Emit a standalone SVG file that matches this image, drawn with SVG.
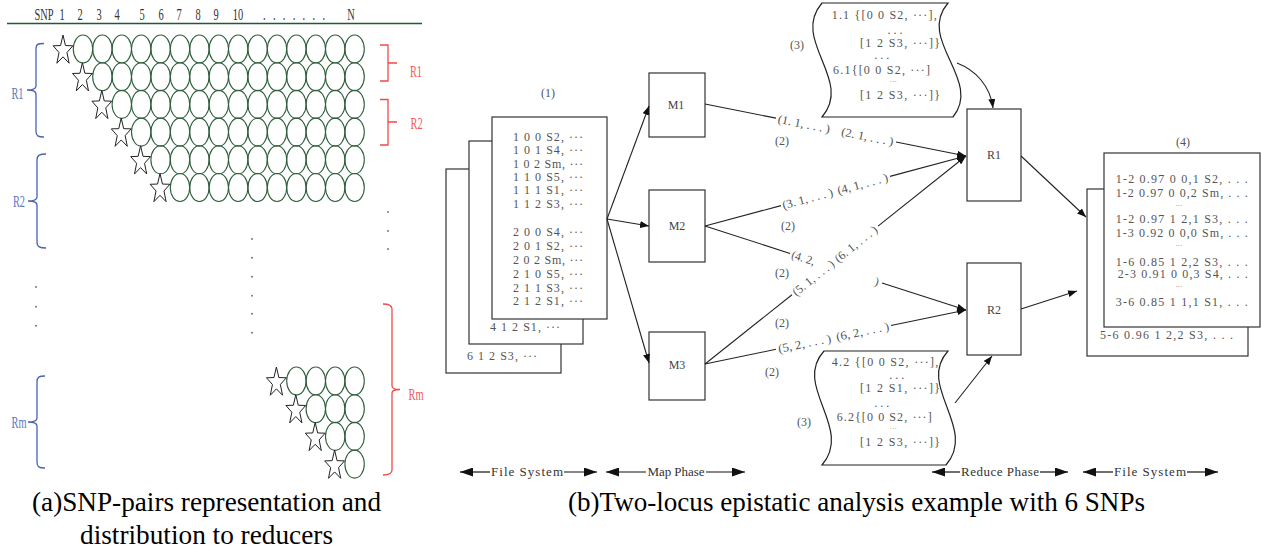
<svg xmlns="http://www.w3.org/2000/svg" width="1262" height="550" viewBox="0 0 1262 550">
<style>
.cir{fill:none;stroke:#2f5f3c;stroke-width:1.1}
.star{fill:#fff;stroke:#222;stroke-width:1}
.hdr{font-family:"Liberation Serif",serif;font-size:16px;fill:#333}
.bl{fill:none;stroke:#4a64ad;stroke-width:1.3}
.rd{fill:none;stroke:#f04a4a;stroke-width:1.3}
.blt{font-family:"Liberation Serif",serif;font-size:16px;fill:#5c78c4}
.rdt{font-family:"Liberation Serif",serif;font-size:16px;fill:#f05a5a}
.dot{fill:#6a8070}
.box{fill:#fff;stroke:#333;stroke-width:1.2}
.wave{fill:#fff;stroke:#222;stroke-width:1.2}
.mono{font-family:"Liberation Serif",serif;font-size:12px;fill:#555}
.omono{font-family:"Liberation Serif",serif;font-size:12px;fill:#555}
.md{font-family:"Liberation Serif",serif;font-size:7px;fill:#555;text-anchor:middle}
.nm{font-family:"Liberation Serif",serif;font-size:12px;fill:#444;text-anchor:middle}
.lbl{font-family:"Liberation Serif",serif;font-size:12px;fill:#555;text-anchor:middle}
.ln{fill:none;stroke:#222;stroke-width:1.1}
.ph{fill:none;stroke:#111;stroke-width:1.2}
.pht{font-family:"Liberation Serif",serif;font-size:13px;fill:#333;text-anchor:middle}
.cap{font-family:"Liberation Serif",serif;font-size:27px;fill:#000}
</style>
<defs>
<marker id="ah" viewBox="0 0 9 7" refX="9" refY="3.5" markerWidth="9" markerHeight="7" markerUnits="userSpaceOnUse" orient="auto" preserveAspectRatio="none"><path d="M0,0 L9,3.5 L0,7 Z" fill="#111"/></marker>
<marker id="pm" viewBox="0 0 13 9" refX="13" refY="4.5" markerWidth="13" markerHeight="9" markerUnits="userSpaceOnUse" orient="auto-start-reverse" preserveAspectRatio="none"><path d="M0,0 L13,4.5 L0,9 Z" fill="#111"/></marker>
<polygon id="star" points="0,-15.6 2.45,-5.05 9.89,-4.82 3.96,1.93 6.11,12.62 0,6.24 -6.11,12.62 -3.96,1.93 -9.89,-4.82 -2.45,-5.05"/>
<g id="k14"><ellipse class="cir" cx="354.6" cy="0" rx="9.7" ry="14"/></g>
<g id="k13"><ellipse class="cir" cx="335.2" cy="0" rx="9.7" ry="14"/><use href="#k14"/></g>
<g id="k12"><ellipse class="cir" cx="315.8" cy="0" rx="9.7" ry="14"/><use href="#k13"/></g>
<g id="k11"><ellipse class="cir" cx="296.4" cy="0" rx="9.7" ry="14"/><use href="#k12"/></g>
<g id="k10"><ellipse class="cir" cx="277" cy="0" rx="9.7" ry="14"/><use href="#k11"/></g>
<g id="k9"><ellipse class="cir" cx="257.6" cy="0" rx="9.7" ry="14"/><use href="#k10"/></g>
<g id="k8"><ellipse class="cir" cx="238.2" cy="0" rx="9.7" ry="14"/><use href="#k9"/></g>
<g id="k7"><ellipse class="cir" cx="218.8" cy="0" rx="9.7" ry="14"/><use href="#k8"/></g>
<g id="k6"><ellipse class="cir" cx="199.4" cy="0" rx="9.7" ry="14"/><use href="#k7"/></g>
<g id="k5"><ellipse class="cir" cx="180" cy="0" rx="9.7" ry="14"/><use href="#k6"/></g>
<g id="k4"><ellipse class="cir" cx="160.6" cy="0" rx="9.7" ry="14"/><use href="#k5"/></g>
<g id="k3"><ellipse class="cir" cx="141.2" cy="0" rx="9.7" ry="14"/><use href="#k4"/></g>
<g id="k2"><ellipse class="cir" cx="121.8" cy="0" rx="9.7" ry="14"/><use href="#k3"/></g>
<g id="k1"><ellipse class="cir" cx="102.4" cy="0" rx="9.7" ry="14"/><use href="#k2"/></g>
<g id="k0"><ellipse class="cir" cx="83" cy="0" rx="9.7" ry="14"/><use href="#k1"/></g>
</defs>
<rect width="1262" height="550" fill="#fff"/>

<!-- Left panel (a) -->
<g id="panel-a">
<line x1="7" y1="23.5" x2="422" y2="23.5" stroke="#1f5a30" stroke-width="1.5"/>
<g transform="scale(0.65,1)" class="hdr" text-anchor="middle">
<text x="67.7" y="20">SNP</text>
<text x="95.4" y="20">1</text>
<text x="123.1" y="20">2</text>
<text x="152.3" y="20">3</text>
<text x="180" y="20">4</text>
<text x="218.5" y="20">5</text>
<text x="247.7" y="20">6</text>
<text x="275.4" y="20">7</text>
<text x="304.6" y="20">8</text>
<text x="332.3" y="20">9</text>
<text x="366.2" y="20">10</text>
<text x="404.6" y="20" text-anchor="start" textLength="95.4" lengthAdjust="spacing">.......</text>
<text x="540" y="20">N</text>
</g>
<use href="#k0" y="49"/>
<use href="#k1" y="76.7"/>
<use href="#k2" y="104.4"/>
<use href="#k3" y="132.1"/>
<use href="#k4" y="159.8"/>
<use href="#k5" y="187.5"/>
<use href="#k11" y="381"/>
<use href="#k12" y="408.7"/>
<use href="#k13" y="436.4"/>
<use href="#k14" y="464.1"/>
<use href="#star" class="star" x="63" y="50.6"/>
<use href="#star" class="star" x="82.4" y="78.3"/>
<use href="#star" class="star" x="101.8" y="106"/>
<use href="#star" class="star" x="121.2" y="133.7"/>
<use href="#star" class="star" x="140.6" y="161.4"/>
<use href="#star" class="star" x="160" y="189.1"/>
<use href="#star" class="star" x="276.4" y="382.6"/>
<use href="#star" class="star" x="295.8" y="410.3"/>
<use href="#star" class="star" x="315.2" y="438"/>
<use href="#star" class="star" x="334.6" y="465.7"/>
<path class="bl" d="M44,43.5 C38,43.5 36,44 36,49 L36,86 C36,89 33,90 27,90 C33,90 36,91 36,94 L36,131 C36,136 38,137 44,137"/>
<path class="bl" d="M46,154 C40,154 37,155 37,160 L37,197 C37,200 34,201 28,201 C34,201 37,202 37,205 L37,242 C37,247 40,248 46,248"/>
<path class="bl" d="M45,376 C39,376 37,377 37,382 L37,418 C37,421 34,422 28,422 C34,422 37,423 37,426 L37,462 C37,467 39,468 45,468"/>
<path class="rd" d="M380,45 L388,45 L388,81 L380,81 M388,63 L397,63"/>
<path class="rd" d="M380,99.5 L388,99.5 L388,145 L380,145 M388,122 L397,122"/>
<path class="rd" stroke-width="1.6" d="M383,304 C389,304 392,305 392,309 L392,386 C392,388 395,389.5 400,389.5 C395,389.5 392,391 392,393 L392,470 C392,474 389,475 383,475"/>
<g transform="scale(0.65,1)" text-anchor="middle">
<text class="blt" x="26.9" y="99">R1</text>
<text class="blt" x="29.2" y="207">R2</text>
<text class="blt" x="29.2" y="428">Rm</text>
<text class="rdt" x="640" y="77">R1</text>
<text class="rdt" x="640.8" y="129">R2</text>
<text class="rdt" x="640" y="400">Rm</text>
</g>
<circle class="dot" cx="36" cy="287" r="1"/>
<circle class="dot" cx="36" cy="306.7" r="1"/>
<circle class="dot" cx="36" cy="325.7" r="1"/>
<circle class="dot" cx="252" cy="239" r="1"/>
<circle class="dot" cx="252" cy="257.7" r="1"/>
<circle class="dot" cx="252" cy="276.7" r="1"/>
<circle class="dot" cx="252" cy="295.7" r="1"/>
<circle class="dot" cx="252" cy="313.7" r="1"/>
<circle class="dot" cx="252" cy="332.7" r="1"/>
<circle class="dot" cx="388" cy="212" r="1"/>
<circle class="dot" cx="388" cy="231" r="1"/>
<circle class="dot" cx="388" cy="249" r="1"/>
</g>

<!-- (1) input files -->
<g id="input-files">
<text class="lbl" x="548" y="97">(1)</text>
<rect class="box" x="446" y="169" width="115" height="204"/>
<text class="mono" x="467" y="360" textLength="70" lengthAdjust="spacing">6 1 2 S3, ···</text>
<rect class="box" x="469" y="141" width="114" height="203"/>
<text class="mono" x="490" y="330.5" textLength="70" lengthAdjust="spacing">4 1 2 S1, ···</text>
<rect class="box" x="492" y="117" width="115" height="202"/>
<g class="mono">
<text x="513" y="140.5" textLength="70" lengthAdjust="spacing">1 0 0 S2, ···</text>
<text x="513" y="154" textLength="70" lengthAdjust="spacing">1 0 1 S4, ···</text>
<text x="513" y="167.5" textLength="70" lengthAdjust="spacing">1 0 2 Sm, ···</text>
<text x="513" y="180.5" textLength="70" lengthAdjust="spacing">1 1 0 S5, ···</text>
<text x="513" y="194" textLength="70" lengthAdjust="spacing">1 1 1 S1, ···</text>
<text x="513" y="207.5" textLength="70" lengthAdjust="spacing">1 1 2 S3, ···</text>
<text x="513" y="235.5" textLength="70" lengthAdjust="spacing">2 0 0 S4, ···</text>
<text x="513" y="249.5" textLength="70" lengthAdjust="spacing">2 0 1 S2, ···</text>
<text x="513" y="264" textLength="70" lengthAdjust="spacing">2 0 2 Sm, ···</text>
<text x="513" y="278" textLength="70" lengthAdjust="spacing">2 1 0 S5, ···</text>
<text x="513" y="291.5" textLength="70" lengthAdjust="spacing">2 1 1 S3, ···</text>
<text x="513" y="304.5" textLength="70" lengthAdjust="spacing">2 1 2 S1, ···</text>
</g>
</g>

<!-- mappers -->
<g id="M1"><rect class="box" x="649" y="73" width="56" height="64"/><text class="nm" x="676" y="109">M1</text></g>
<g id="M2"><rect class="box" x="649" y="190" width="56" height="72"/><text class="nm" x="677" y="230">M2</text></g>
<g id="M3"><rect class="box" x="649" y="332" width="56" height="68"/><text class="nm" x="677" y="369">M3</text></g>

<!-- reducers -->
<g id="R1"><rect class="box" x="967" y="109" width="54" height="92"/><text class="nm" x="994" y="159">R1</text></g>
<g id="R2"><rect class="box" x="967" y="263" width="54" height="92"/><text class="nm" x="994" y="314">R2</text></g>

<!-- (3) top shuffle doc -->
<g id="shuffle-top">
<path class="wave" d="M822,3 L948,3 C916,40 983,80 953,117 L822,117 C854,80 790,40 822,3 Z"/>
<text class="lbl" x="797" y="49">(3)</text>
<g class="mono">
<text x="831.7" y="19" textLength="105" lengthAdjust="spacing">1.1 {[0 0 S2, ···],</text>
<text x="895" y="34" text-anchor="middle">. . .</text>
<text x="860" y="47.3" textLength="80" lengthAdjust="spacing">[1 2 S3, ···]}</text>
<text x="881.7" y="59" text-anchor="middle">. . .</text>
<text x="833" y="74" textLength="97" lengthAdjust="spacing">6.1{[0 0 S2, ···]</text>
<text class="md" x="893.3" y="84">···</text>
<text x="860" y="99" textLength="80" lengthAdjust="spacing">[1 2 S3, ···]}</text>
</g>
</g>

<!-- (3) bottom shuffle doc -->
<g id="shuffle-bottom">
<path class="wave" d="M824,351 L948,351 C916,386 978,428 946,465 L822,465 C854,428 792,386 824,351 Z"/>
<text class="lbl" x="804" y="426">(3)</text>
<g class="mono">
<text x="831.7" y="365.7" textLength="106.6" lengthAdjust="spacing">4.2 {[0 0 S2, ···],</text>
<text x="896.7" y="379" text-anchor="middle">. . .</text>
<text x="860" y="392.3" textLength="80" lengthAdjust="spacing">[1 2 S1, ···]}</text>
<text x="881.7" y="407" text-anchor="middle">. . .</text>
<text x="836.7" y="420.7" textLength="95" lengthAdjust="spacing">6.2{[0 0 S2, ···]</text>
<text class="md" x="893.3" y="430.5">···</text>
<text x="860" y="445.7" textLength="80" lengthAdjust="spacing">[1 2 S3, ···]}</text>
</g>
</g>

<!-- (4) output files -->
<g id="output-files">
<text class="lbl" x="1183" y="146">(4)</text>
<rect class="box" x="1087" y="189" width="161" height="167"/>
<text class="omono" x="1100" y="339" textLength="133" lengthAdjust="spacing">5-6 0.96 1 2,2 S3, . . .</text>
<rect class="box" x="1104" y="153" width="156" height="174"/>
<g class="omono">
<text x="1115.7" y="183.3" textLength="132" lengthAdjust="spacing">1-2 0.97 0 0,1 S2, . . .</text>
<text x="1115.7" y="196.7" textLength="132" lengthAdjust="spacing">1-2 0.97 0 0,2 Sm, . . .</text>
<text class="md" x="1179" y="207.5">···</text>
<text x="1115.7" y="223.3" textLength="132" lengthAdjust="spacing">1-2 0.97 1 2,1 S3, . . .</text>
<text x="1115.7" y="236.7" textLength="132" lengthAdjust="spacing">1-3 0.92 0 0,0 Sm, . . .</text>
<text class="md" x="1179" y="247.5">···</text>
<text x="1115.7" y="265.7" textLength="132" lengthAdjust="spacing">1-6 0.85 1 2,2 S3, . . .</text>
<text x="1117.7" y="278.3" textLength="130" lengthAdjust="spacing">2-3 0.91 0 0,3 S4, . . .</text>
<text class="md" x="1179" y="289">···</text>
<text x="1115.7" y="305.7" textLength="132" lengthAdjust="spacing">3-6 0.85 1 1,1 S1, . . .</text>
</g>
</g>

<!-- connectors -->
<g id="connectors">
<line class="ln" x1="607" y1="219" x2="649" y2="106" marker-end="url(#ah)"/>
<line class="ln" x1="607" y1="219" x2="649" y2="226" marker-end="url(#ah)"/>
<line class="ln" x1="607" y1="219" x2="649" y2="363" marker-end="url(#ah)"/>
<line class="ln" x1="705" y1="104" x2="776" y2="118.1"/>
<line class="ln" x1="896" y1="142" x2="966" y2="156" marker-end="url(#ah)"/>
<line class="ln" x1="705" y1="226" x2="781" y2="205.6"/>
<line class="ln" x1="890" y1="176.4" x2="966" y2="156" marker-end="url(#ah)"/>
<line class="ln" x1="705" y1="226" x2="790" y2="253.4"/>
<line class="ln" x1="882" y1="283" x2="966" y2="310" marker-end="url(#ah)"/>
<line class="ln" x1="705" y1="364" x2="792" y2="294.7"/>
<line class="ln" x1="878" y1="226.1" x2="966" y2="156" marker-end="url(#ah)"/>
<line class="ln" x1="705" y1="364" x2="776" y2="349.3"/>
<line class="ln" x1="891" y1="325.5" x2="966" y2="310" marker-end="url(#ah)"/>
<path class="ln" d="M957,63 C975,70 990,85 993,108" marker-end="url(#ah)"/>
<line class="ln" x1="955" y1="403" x2="992" y2="356" marker-end="url(#ah)"/>
<line class="ln" x1="1021" y1="156" x2="1086" y2="217" marker-end="url(#ah)"/>
<line class="ln" x1="1021" y1="309" x2="1077" y2="291" marker-end="url(#ah)"/>
<g class="lbl">
<text x="804" y="123.7" dy="0.35em" transform="rotate(11.27 804 123.7)" textLength="53" lengthAdjust="spacingAndGlyphs">(1. 1, . . . )</text>
<text x="867.5" y="136.4" dy="0.35em" transform="rotate(11.27 867.5 136.4)" textLength="53" lengthAdjust="spacingAndGlyphs">(2. 1, . . . )</text>
<text x="807.5" y="198.5" dy="0.35em" transform="rotate(-15.01 807.5 198.5)" textLength="52" lengthAdjust="spacingAndGlyphs">(3. 1, . . . )</text>
<text x="862.5" y="183.8" dy="0.35em" transform="rotate(-15.01 862.5 183.8)" textLength="52" lengthAdjust="spacingAndGlyphs">(4, 1, . . . )</text>
<text x="803.4" y="257.7" dy="0.35em" transform="rotate(17.84 803.4 257.7)" textLength="24" lengthAdjust="spacingAndGlyphs">(4. 2,</text>
<text x="877" y="281.3" dy="0.35em" transform="rotate(17.84 877 281.3)">)</text>
<text x="813.3" y="277.7" dy="0.35em" transform="rotate(-38.55 813.3 277.7)" textLength="50" lengthAdjust="spacingAndGlyphs">(5. 1, . . . )</text>
<text x="855.8" y="243.8" dy="0.35em" transform="rotate(-38.55 855.8 243.8)" textLength="51" lengthAdjust="spacingAndGlyphs">(6. 1, . . . )</text>
<text x="804.5" y="343.4" dy="0.35em" transform="rotate(-11.69 804.5 343.4)" textLength="54" lengthAdjust="spacingAndGlyphs">(5, 2, . . . )</text>
<text x="862.5" y="331.4" dy="0.35em" transform="rotate(-11.69 862.5 331.4)" textLength="54" lengthAdjust="spacingAndGlyphs">(6, 2, . . . )</text>
<text x="782" y="145">(2)</text>
<text x="788" y="230">(2)</text>
<text x="782" y="277">(2)</text>
<text x="782" y="327">(2)</text>
<text x="772" y="376">(2)</text>
</g>
</g>

<!-- phase arrows -->
<g id="phases">
<line class="ph" x1="460" y1="472" x2="490" y2="472" marker-start="url(#pm)"/>
<text class="pht" x="527" y="476" textLength="72" lengthAdjust="spacing">File System</text>
<line class="ph" x1="564" y1="472" x2="597" y2="472" marker-end="url(#pm)"/>
<line class="ph" x1="606" y1="472" x2="646" y2="472" marker-start="url(#pm)"/>
<text class="pht" x="676" y="476" textLength="57" lengthAdjust="spacing">Map Phase</text>
<line class="ph" x1="706" y1="472" x2="745" y2="472" marker-end="url(#pm)"/>
<line class="ph" x1="932" y1="472" x2="960" y2="472" marker-start="url(#pm)"/>
<text class="pht" x="1000" y="476" textLength="78" lengthAdjust="spacing">Reduce Phase</text>
<line class="ph" x1="1040" y1="472" x2="1068" y2="472" marker-end="url(#pm)"/>
<line class="ph" x1="1083" y1="472" x2="1113" y2="472" marker-start="url(#pm)"/>
<text class="pht" x="1150" y="476" textLength="72" lengthAdjust="spacing">File System</text>
<line class="ph" x1="1187" y1="472" x2="1218" y2="472" marker-end="url(#pm)"/>
</g>

<!-- captions -->
<g id="captions">
<text class="cap" x="32" y="511" textLength="349" lengthAdjust="spacingAndGlyphs">(a)SNP-pairs representation and</text>
<text class="cap" x="80" y="544" textLength="253" lengthAdjust="spacingAndGlyphs">distribution to reducers</text>
<text class="cap" x="568" y="511" textLength="577" lengthAdjust="spacingAndGlyphs">(b)Two-locus epistatic analysis example with 6 SNPs</text>
</g>
</svg>
